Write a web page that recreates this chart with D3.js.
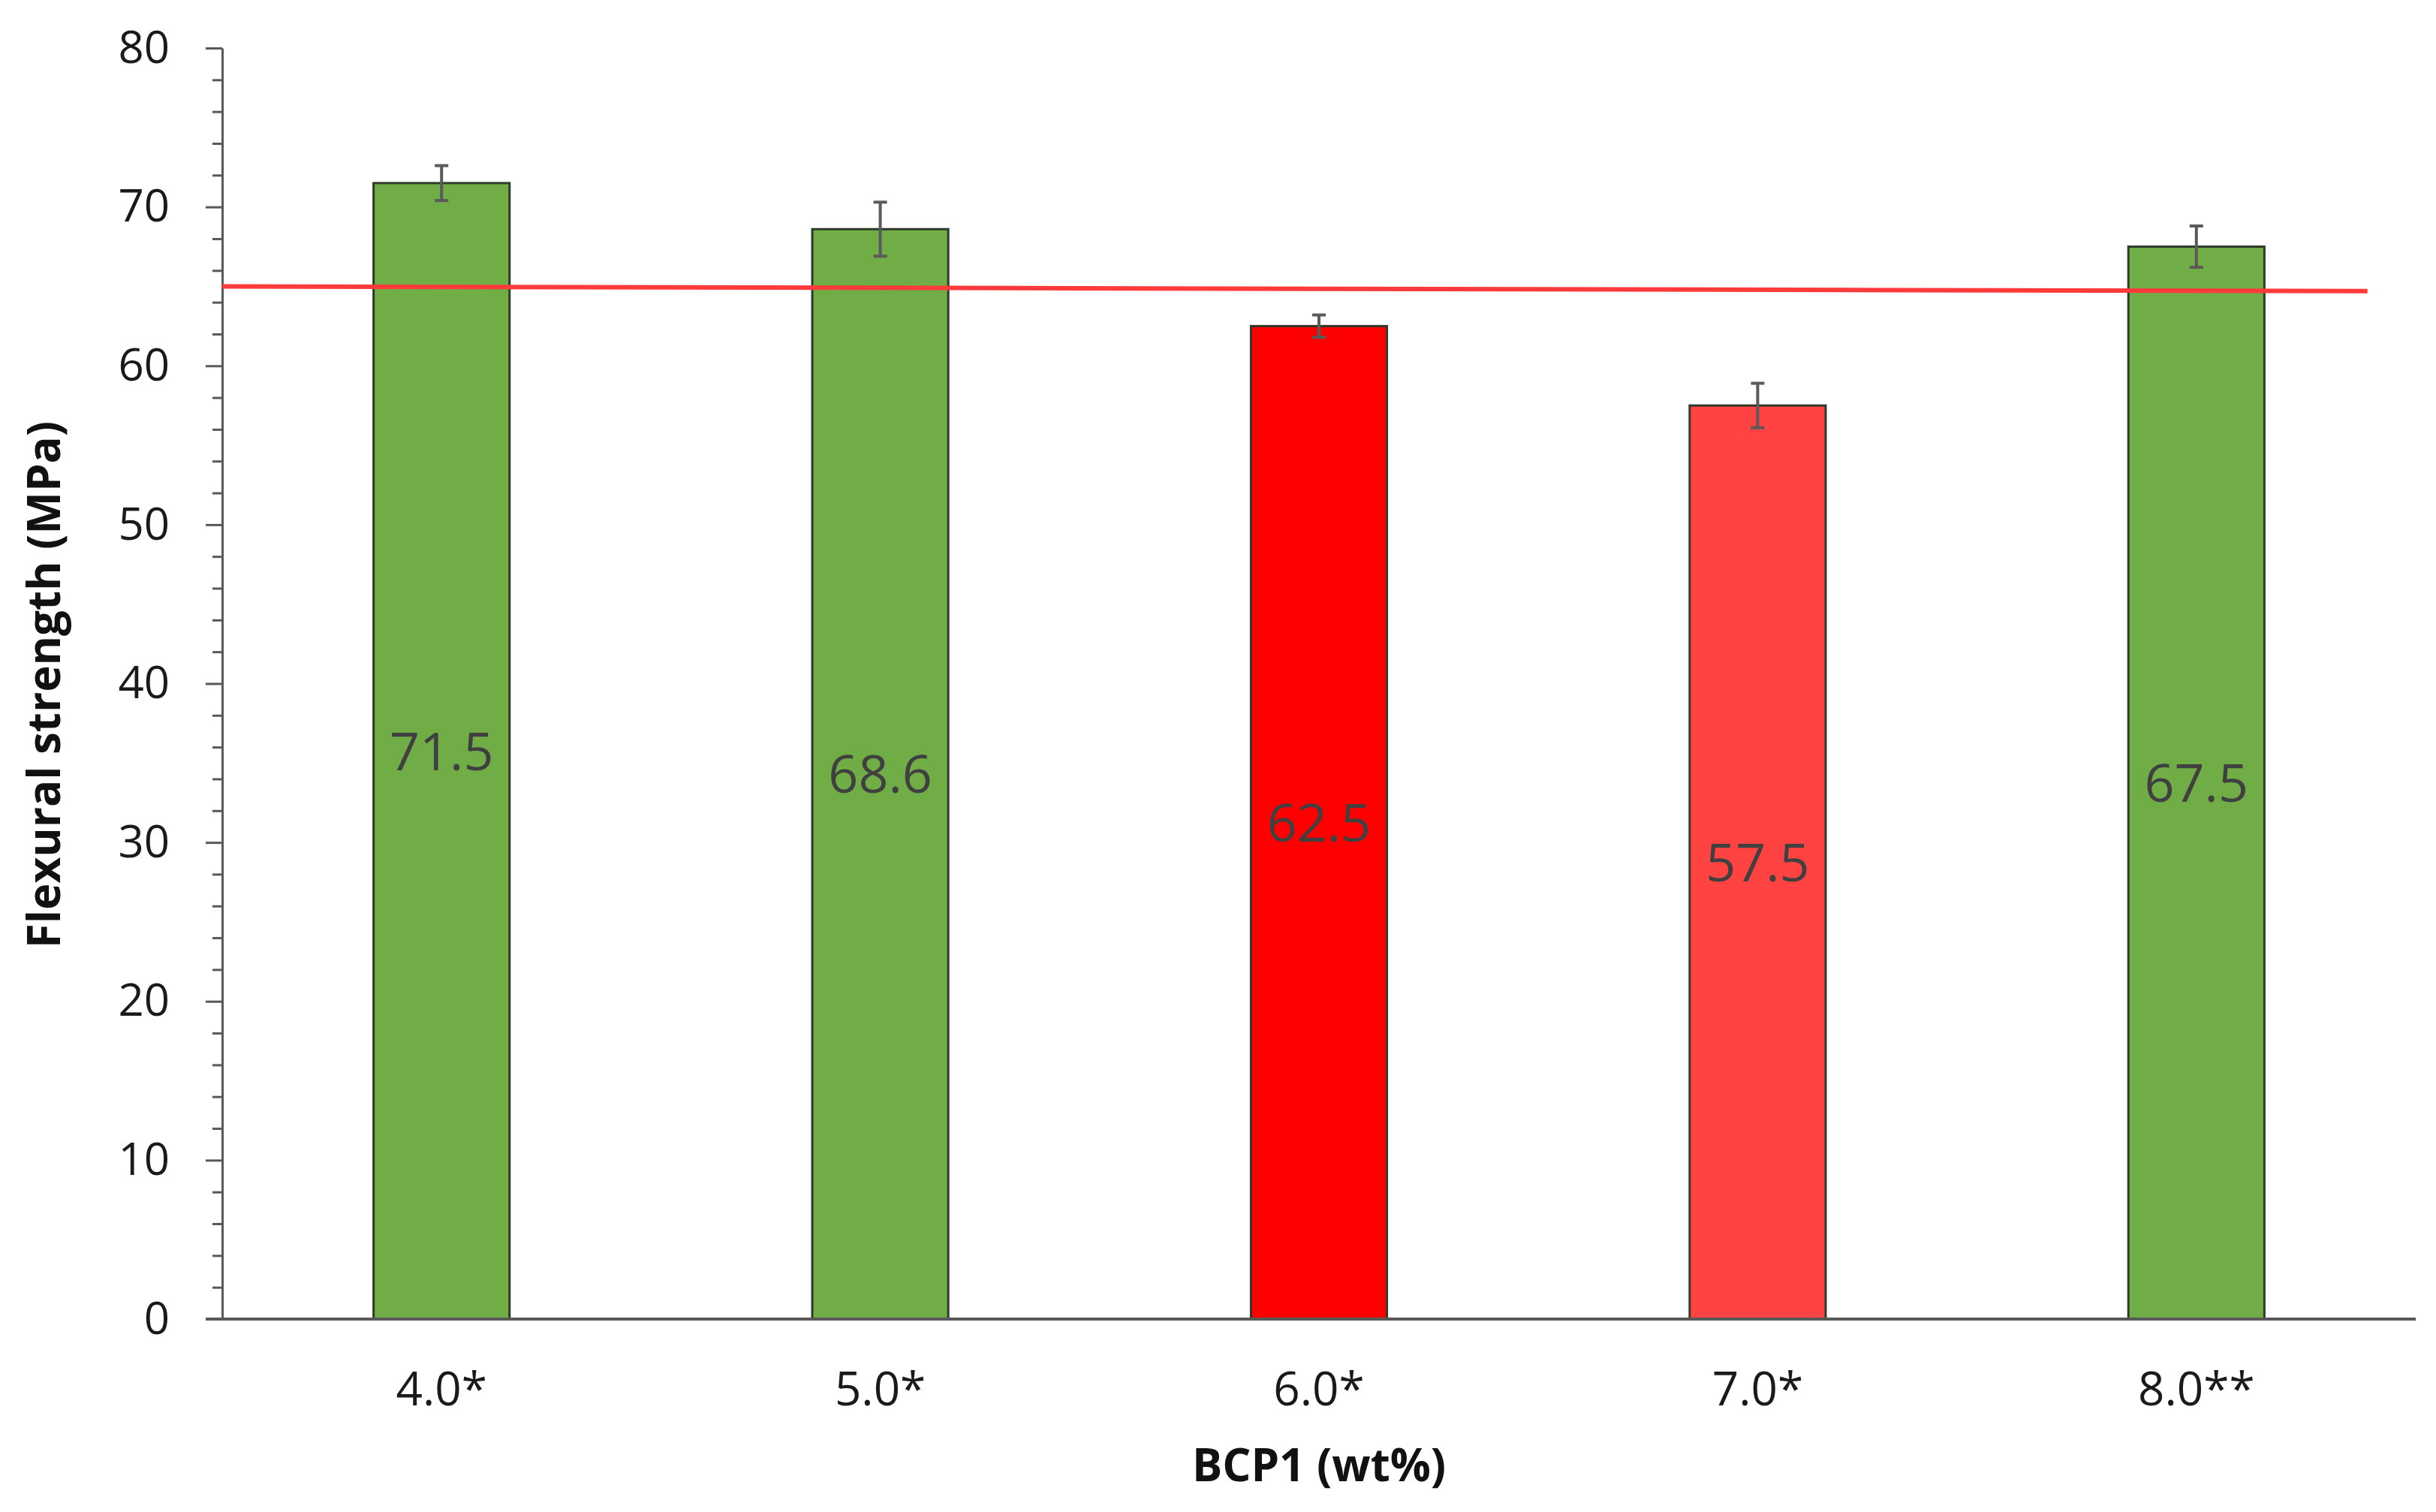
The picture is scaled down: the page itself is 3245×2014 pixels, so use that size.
<!DOCTYPE html>
<html>
<head>
<meta charset="utf-8">
<script src="https://cdn.jsdelivr.net/npm/d3@7"></script>
<style>
  html, body { margin: 0; padding: 0; background: #fff; }
  svg { display: block; }
</style>
</head>
<body>
<svg id="chart" width="3245" height="2014"></svg>
<script>
// data
var categories = ["4.0*", "5.0*", "6.0*", "7.0*", "8.0**"];
var strength = [71.5, 68.6, 62.5, 57.5, 67.5];
var errors = [1.1, 1.7, 0.7, 1.4, 1.3];
var barColors = ["#70ad47", "#70ad47", "#ff0000", "#ff4343", "#70ad47"];
var yTicks = [0, 10, 20, 30, 40, 50, 60, 70, 80];
var yMinor = [2, 4, 6, 8, 12, 14, 16, 18, 22, 24, 26, 28, 32, 34, 36, 38,
              42, 44, 46, 48, 52, 54, 56, 58, 62, 64, 66, 68, 72, 74, 76, 78];
// reference line, x in category-slot units (0 = y axis, 5 = right end)
var refLine = [{pos: 0, val: 65.0}, {pos: 4.89, val: 64.7}];

// plot box (note: "top" is taken by window.top, so use mT etc.)
var mL = 296, mR = 3218, mT = 64, mB = 1757;

var svg = d3.select("#chart");

var x = d3.scaleBand()
  .domain(categories)
  .range([mL, mR])
  .paddingInner(0.69)
  .paddingOuter(0.345);

var xSlot = d3.scaleLinear().domain([0, 5]).range([mL, mR]);

var y = d3.scaleLinear().domain([0, 80]).range([mB, mT]);

var font = "'Open Sans', sans-serif";

// minor ticks (every 2), no labels
var gMinor = svg.append("g")
  .attr("transform", "translate(" + mL + ",0)")
  .call(d3.axisLeft(y).tickValues(yMinor).tickSize(13).tickFormat(""));
gMinor.select(".domain").remove();
gMinor.selectAll(".tick line").attr("stroke", "#595959").attr("stroke-width", 3);

// major ticks with labels
var gy = svg.append("g")
  .attr("transform", "translate(" + mL + ",0)")
  .call(d3.axisLeft(y).tickValues(yTicks).tickSize(22).tickPadding(48).tickSizeOuter(0));
gy.select(".domain").attr("stroke", "#595959").attr("stroke-width", 3);
gy.selectAll(".tick line").attr("stroke", "#595959").attr("stroke-width", 3);
gy.selectAll(".tick text")
  .attr("font-family", font)
  .attr("font-size", 60)
  .attr("fill", "#1a1a1a");

// bars
svg.append("g").selectAll("rect")
  .data(strength)
  .join("rect")
  .attr("x", function(d, i) { return x(categories[i]); })
  .attr("y", function(d) { return y(d); })
  .attr("width", x.bandwidth())
  .attr("height", function(d) { return y(0) - y(d); })
  .attr("fill", function(d, i) { return barColors[i]; })
  .attr("stroke", "#2f3a28")
  .attr("stroke-width", 3);

// x axis line
svg.append("line")
  .attr("x1", mL - 22).attr("x2", mR)
  .attr("y1", mB).attr("y2", mB)
  .attr("stroke", "#595959")
  .attr("stroke-width", 4);

// reference line
var line = d3.line()
  .x(function(d) { return xSlot(d.pos); })
  .y(function(d) { return y(d.val); });

svg.append("path")
  .attr("d", line(refLine))
  .attr("stroke", "#ff3a3a")
  .attr("stroke-width", 6)
  .attr("fill", "none");

// error bars
var eb = svg.append("g").attr("stroke", "#5a5a5a").attr("stroke-width", 4);
strength.forEach(function(v, i) {
  var cx = x(categories[i]) + x.bandwidth() / 2;
  var hi = y(v + errors[i]), lo = y(v - errors[i]);
  eb.append("line").attr("x1", cx).attr("x2", cx).attr("y1", hi).attr("y2", lo);
  eb.append("line").attr("x1", cx - 9).attr("x2", cx + 9).attr("y1", hi).attr("y2", hi);
  eb.append("line").attr("x1", cx - 9).attr("x2", cx + 9).attr("y1", lo).attr("y2", lo);
});

// value labels at half bar height
svg.append("g").selectAll("text")
  .data(strength)
  .join("text")
  .attr("x", function(d, i) { return x(categories[i]) + x.bandwidth() / 2; })
  .attr("y", function(d) { return y(d / 2); })
  .attr("dy", "0.36em")
  .attr("text-anchor", "middle")
  .attr("font-family", font)
  .attr("font-size", 70)
  .attr("fill", "#404040")
  .text(function(d) { return d.toFixed(1); });

// category labels
svg.append("g").selectAll("text")
  .data(categories)
  .join("text")
  .attr("x", function(d) { return x(d) + x.bandwidth() / 2; })
  .attr("y", 1872)
  .attr("text-anchor", "middle")
  .attr("font-family", font)
  .attr("font-size", 62)
  .attr("fill", "#1a1a1a")
  .text(function(d) { return d; });

// axis titles
svg.append("text")
  .attr("x", (mL + mR) / 2)
  .attr("y", 1973)
  .attr("text-anchor", "middle")
  .attr("font-family", font)
  .attr("font-weight", "bold")
  .attr("font-size", 60)
  .attr("fill", "#111")
  .text("BCP1 (wt%)");

svg.append("text")
  .attr("transform", "translate(80,912) rotate(-90)")
  .attr("text-anchor", "middle")
  .attr("font-family", font)
  .attr("font-weight", "bold")
  .attr("font-size", 60)
  .attr("fill", "#111")
  .text("Flexural strength (MPa)");
</script>
</body>
</html>
